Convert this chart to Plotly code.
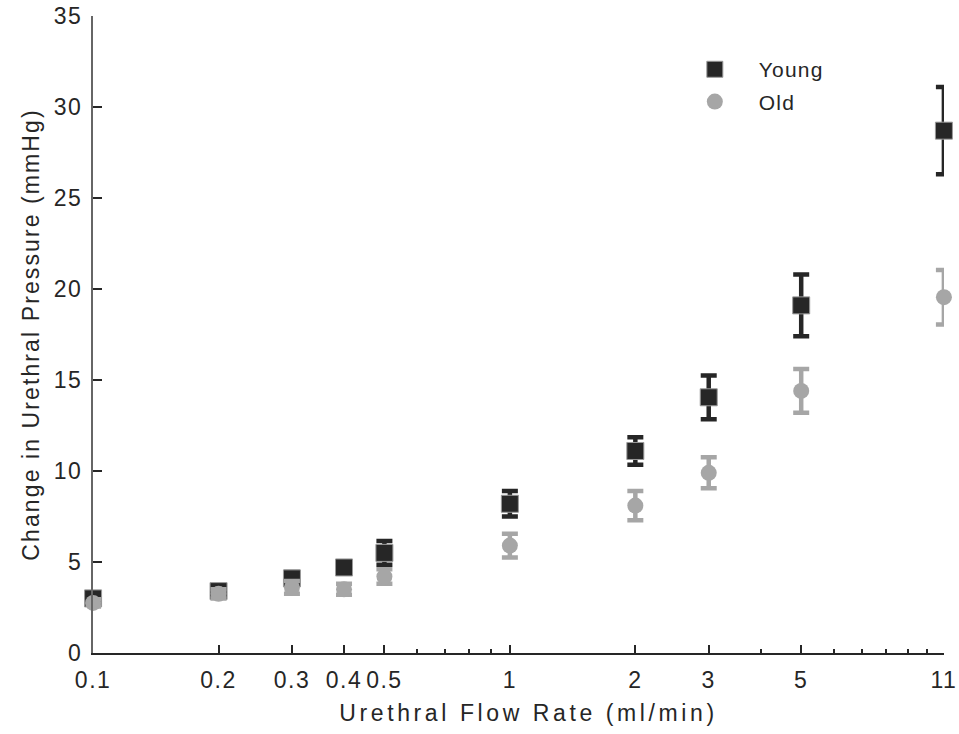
import plotly.graph_objects as go

flow = [0.1, 0.2, 0.3, 0.4, 0.5, 1, 2, 3, 5, 11]
young = [3.0, 3.4, 4.1, 4.7, 5.5, 8.2, 11.1, 14.05, 19.1, 28.7]
young_err = [0.25, 0.3, 0.35, 0.3, 0.65, 0.7, 0.75, 1.2, 1.7, 2.4]
old = [2.75, 3.25, 3.6, 3.5, 4.2, 5.9, 8.1, 9.9, 14.4, 19.55]
old_err = [0.2, 0.25, 0.35, 0.3, 0.4, 0.65, 0.8, 0.85, 1.2, 1.5]

x_tickvals = [0.1, 0.2, 0.3, 0.4, 0.5, 1, 2, 3, 5, 11]
x_ticktext = ["0.1", "0.2", "0.3", "0.4", "0.5", "1", "2", "3", "5", "11"]
x_minor = [0.6, 0.7, 0.8, 0.9, 4, 6, 7, 8, 9, 10]
y_tickvals = [0, 5, 10, 15, 20, 25, 30, 35]
y_ticktext = ["0", "5", "10", "15", "20", "25", "30", "35"]

dark = "#262626"
grey = "#a6a6a6"
font = "Liberation Sans, Arial, sans-serif"


def spaced(t, px):
    return f'<span style="letter-spacing:{px}px">{t}</span>'


fig = go.Figure()
fig.add_trace(go.Scatter(
    x=flow, y=young, mode="markers", name=spaced("Young", 1.2), legendgroup="y",
    cliponaxis=False,
    marker=dict(symbol="square", size=17, color=dark, line=dict(color="#9a9a9a", width=1)),
    error_y=dict(type="data", array=young_err, color=dark, thickness=4.5, width=8),
))
fig.add_trace(go.Scatter(
    x=flow, y=old, mode="markers", name=spaced("Old", 1.2), legendgroup="o",
    cliponaxis=False,
    marker=dict(symbol="circle", size=16, color=grey, line=dict(width=0)),
    error_y=dict(type="data", array=old_err, color=grey, thickness=4.5, width=8),
))

fig.update_layout(
    width=959, height=734,
    margin=dict(l=93, r=15, t=16, b=81),
    paper_bgcolor="white", plot_bgcolor="white",
    font=dict(family=font, size=19, color=dark),
    showlegend=True,
    legend=dict(x=0.679, y=0.948, xanchor="left", yanchor="top",
                font=dict(size=21, color=dark), bgcolor="rgba(0,0,0,0)",
                itemwidth=78, traceorder="grouped", tracegroupgap=2),
    xaxis=dict(
        type="log", range=[-1.0002, 1.0416], automargin=False,
        tickvals=x_tickvals, ticktext=[spaced(t, 1.5) for t in x_ticktext],
        ticklabeloverflow="allow",
        ticks="inside", ticklen=8, tickwidth=2, tickcolor=dark,
        ticklabelstandoff=5,
        minor=dict(tickvals=x_minor, ticks="inside", ticklen=4, tickwidth=2, tickcolor=dark),
        showline=True, linecolor=dark, linewidth=2, mirror=False,
        showgrid=False, zeroline=False,
        tickfont=dict(size=23, color=dark),
        title=dict(text=spaced("&nbsp;&nbsp;Urethral Flow Rate (ml/min)", 3.6),
                   font=dict(size=23, color=dark), standoff=13),
    ),
    yaxis=dict(
        range=[0, 35], tickvals=y_tickvals, ticktext=[spaced(t, 1.5) for t in y_ticktext],
        automargin=False, ticklabeloverflow="allow",
        ticks="inside", ticklen=9, tickwidth=2, tickcolor=dark,
        ticklabelstandoff=4,
        showline=True, linecolor="#666666", linewidth=2, mirror=False,
        showgrid=False, zeroline=False,
        tickfont=dict(size=23, color=dark),
        title=dict(text=spaced("Change in Urethral Pressure (mmHg)", 2.1),
                   font=dict(size=23, color=dark), standoff=8),
    ),
)

fig.write_html("out.html")
